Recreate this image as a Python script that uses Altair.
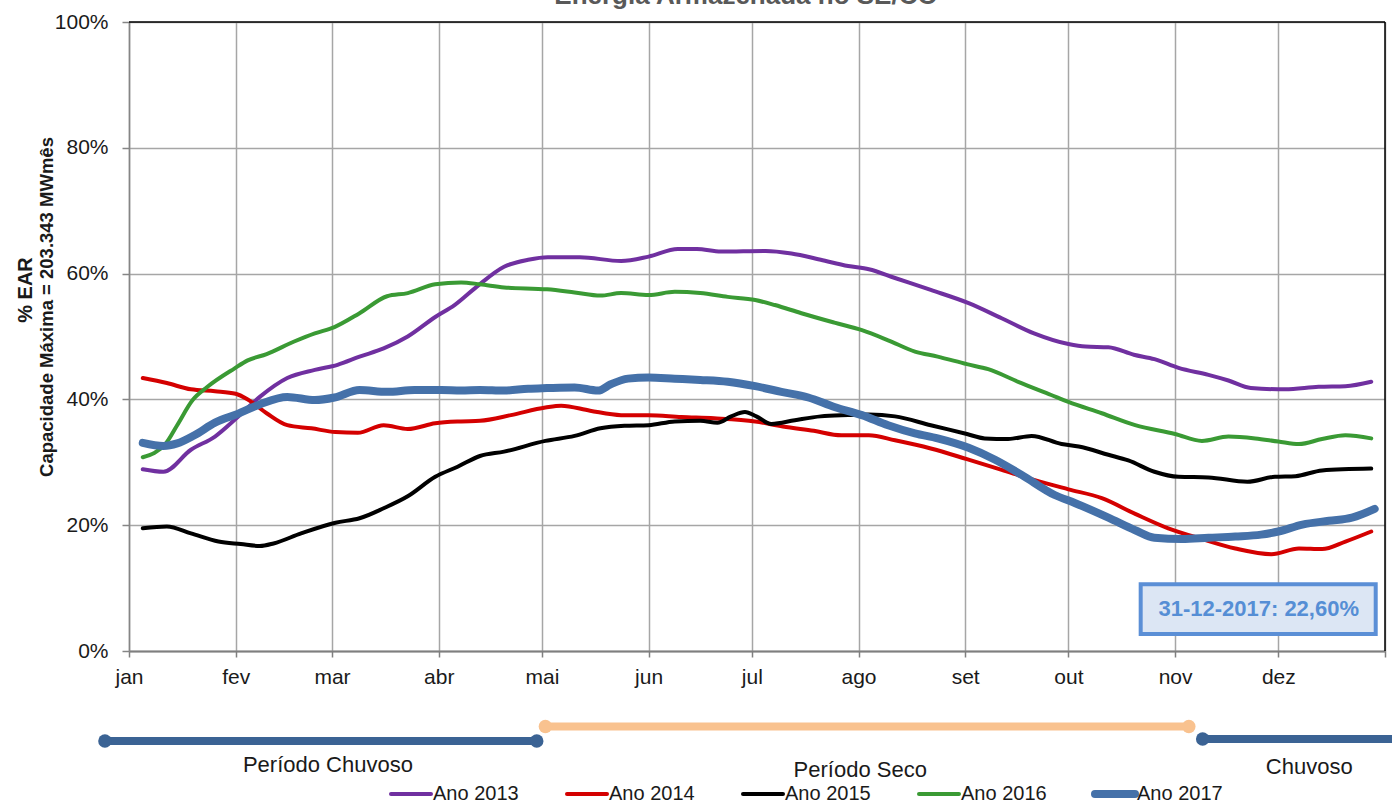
import json
import altair as alt
import pandas as pd

FONT = "Liberation Sans Narrow, Arial Narrow, Liberation Sans, Arial, sans-serif"
TEXT = "#1a1a1a"

# ---- series -------------------------------------------------------------
YEARS = ["Ano 2013", "Ano 2014", "Ano 2015", "Ano 2016", "Ano 2017"]
COLORS = ["#7030A0", "#D40000", "#000000", "#3A9A34", "#4571A9"]
WIDTHS = [4, 4, 4, 4, 8]

MONTHS = ["jan", "fev", "mar", "abr", "mai", "jun",
          "jul", "ago", "set", "out", "nov", "dez"]
MONTH_START = [0, 31, 59, 90, 120, 151, 181, 212, 243, 273, 304, 334, 365]

# day of year / % EAR
day_2013 = [4, 10, 18, 25, 31.6, 38, 46, 54, 60.6, 67, 74, 81, 89, 94.6, 101, 109, 116,
            121.7, 131, 143, 151, 159.5, 165, 172, 185, 192.5, 201, 209, 215, 222.6,
            233, 244, 253.6, 263, 273, 278, 284.6, 292, 298, 305, 313.7, 319.5, 326,
            336, 345.7, 353.5, 361]
ear_2013 = [28.9, 28.5, 32.0, 34.1, 37.2, 40.4, 43.4, 44.7, 45.5, 46.8, 48.1, 50.0, 53.1,
            55.0, 57.9, 61.1, 62.2, 62.6, 62.6, 62.0, 62.7, 63.9, 63.9, 63.5, 63.6, 63.2,
            62.2, 61.2, 60.7, 59.3, 57.4, 55.3, 52.9, 50.5, 48.8, 48.4, 48.3, 47.1, 46.4,
            45.0, 43.9, 43.0, 41.8, 41.6, 42.0, 42.1, 42.8]

day_2014 = [4, 11, 18, 25, 31, 34.5, 40, 46, 53, 60, 66.5, 74, 81, 89, 96.5, 102, 111,
            121, 125.6, 134, 143, 151, 160.5, 170, 182, 190, 199, 207, 215, 222.6, 233,
            243.5, 253.6, 263, 273, 282.7, 292.4, 302, 311.8, 321.5, 332, 340, 346.7,
            353.5, 361]
ear_2014 = [43.4, 42.6, 41.6, 41.3, 40.9, 40.0, 37.8, 35.9, 35.4, 34.8, 34.7, 35.9, 35.3,
            36.2, 36.5, 36.6, 37.5, 38.7, 39.0, 38.2, 37.5, 37.5, 37.2, 37.0, 36.5, 35.7,
            35.0, 34.3, 34.3, 33.5, 32.2, 30.5, 28.8, 27.2, 25.7, 24.3, 21.8, 19.5, 17.8,
            16.3, 15.4, 16.3, 16.2, 17.4, 19.0]

day_2015 = [4, 11, 18, 26, 32.5, 38, 42, 50, 60, 67, 74, 81, 89, 95.5, 102, 109, 121,
            129.5, 137, 144, 151, 158.6, 166, 171, 175, 179, 182.3, 186.7, 193.5, 201,
            209, 215, 222.6, 233, 243.5, 248.7, 255.5, 262.3, 271, 276, 284.6, 290.4,
            298, 305, 313.7, 325, 333, 339, 346.7, 361]
ear_2015 = [19.5, 19.8, 18.7, 17.4, 17.0, 16.7, 17.1, 18.7, 20.4, 21.1, 22.7, 24.6, 27.7,
            29.3, 31.0, 31.7, 33.4, 34.2, 35.4, 35.8, 35.9, 36.5, 36.6, 36.3, 37.3, 38.0,
            37.3, 36.1, 36.7, 37.3, 37.5, 37.6, 37.3, 35.9, 34.5, 33.8, 33.7, 34.2, 32.9,
            32.5, 31.2, 30.3, 28.5, 27.7, 27.6, 26.9, 27.7, 27.8, 28.7, 29.0]

day_2016 = [4, 10.7, 14, 18.5, 22.8, 30.6, 34.5, 40, 48, 54, 59.7, 67, 75, 81, 89, 96.5,
            102, 109, 121.5, 129.5, 137, 143, 151, 158.6, 166, 174, 182, 187.7, 195.4,
            205, 213, 220.6, 228.4, 235, 243.5, 249.7, 258.4, 268, 273, 282.7, 292.4,
            304, 311.8, 319.5, 327.3, 334, 340, 346.7, 353.5, 361]
ear_2016 = [30.8, 33.0, 35.9, 39.9, 42.0, 44.9, 46.2, 47.2, 49.2, 50.5, 51.5, 53.7, 56.4,
            56.9, 58.3, 58.6, 58.3, 57.8, 57.5, 57.0, 56.5, 56.9, 56.6, 57.1, 56.9, 56.3,
            55.8, 55.0, 53.7, 52.2, 51.0, 49.4, 47.6, 46.8, 45.6, 44.8, 42.8, 40.7, 39.6,
            37.8, 35.9, 34.5, 33.4, 34.1, 33.8, 33.3, 32.9, 33.7, 34.3, 33.8]

day_2017 = [4, 10, 14, 19, 25, 31.6, 38, 46, 54, 59.7, 67, 75, 83, 90.7, 96.5, 102, 109,
            116, 121.5, 129.5, 136.3, 140, 145, 151, 158.6, 166, 174, 182, 189.6, 197.4,
            205, 213, 220.6, 228.4, 235, 244, 251.7, 259.4, 269, 275, 284.6, 292.4, 298,
            306, 313.7, 321.5, 329, 334, 341, 348.7, 355.4, 362]
ear_2017 = [33.1, 32.6, 33.0, 34.3, 36.3, 37.7, 39.2, 40.4, 39.9, 40.3, 41.5, 41.2, 41.5,
            41.5, 41.4, 41.5, 41.4, 41.7, 41.8, 41.9, 41.4, 42.4, 43.3, 43.5, 43.3, 43.1,
            42.8, 42.1, 41.2, 40.3, 38.8, 37.5, 35.9, 34.6, 33.8, 32.3, 30.4, 28.0, 24.8,
            23.5, 21.2, 19.2, 18.0, 17.8, 18.0, 18.2, 18.5, 19.0, 20.1, 20.7, 21.2, 22.6]

SERIES = {
    "Ano 2013": (day_2013, ear_2013),
    "Ano 2014": (day_2014, ear_2014),
    "Ano 2015": (day_2015, ear_2015),
    "Ano 2016": (day_2016, ear_2016),
    "Ano 2017": (day_2017, ear_2017),
}

rows = []
for k, (year, (days, vals)) in enumerate(SERIES.items()):
    for d, v in zip(days, vals):
        rows.append({"ano": year, "dia": d, "ear": v, "largura": WIDTHS[k]})
lines_df = pd.DataFrame(rows)

# ---- season bands below the chart (day-of-year extents) -------------------
PERIOD_NAMES = ["Período Chuvoso", "Período Seco", "Chuvoso"]
PERIOD_START = [-7, 121, 312]
PERIOD_END = [118.5, 308, 370]
PERIOD_COLORS = ["#3B6394", "#F9C28F", "#3B6394"]

LAST_LABEL = "31-12-2017: " + f"{ear_2017[-1]:.2f}".replace(".", ",") + "%"
TITLE = "Energia Armazenada no SE/CO"

PLOT_W, PLOT_H = 1256, 629
PAD_L, PAD_T = 129, 22
PX_PER_DAY = PLOT_W / 365

X_SCALE = alt.Scale(domain=[0, 365], nice=False, zero=False)
Y_SCALE = alt.Scale(domain=[0, 100], nice=False, zero=False)
COLOR_SCALE = alt.Scale(domain=YEARS, range=COLORS)

month_expr = ("datum.value >= 365 ? '' : " + json.dumps(MONTHS)
              + "[indexof(" + json.dumps(MONTH_START[:12]) + ", datum.value)]")

x_axis = alt.Axis(values=MONTH_START, labelExpr=month_expr, title=None,
                  grid=True, gridColor="#A6A6A6", gridWidth=1.5,
                  domainColor="#7F7F7F", domainWidth=2,
                  tickColor="#7F7F7F", tickSize=6, tickWidth=1.5,
                  labelFont=FONT, labelFontSize=21, labelColor=TEXT,
                  labelPadding=9, labelAlign="center", labelFlush=False)
y_axis = alt.Axis(values=[0, 20, 40, 60, 80, 100], labelExpr="datum.value + '%'",
                  title=None, grid=True, gridColor="#A6A6A6", gridWidth=1.5,
                  domainColor="#858585", domainWidth=1.5,
                  tickColor="#858585", tickSize=7, tickWidth=1.5,
                  labelFont=FONT, labelFontSize=21, labelColor=TEXT,
                  labelPadding=14)

lines = alt.Chart(lines_df).mark_line(interpolate="monotone", strokeCap="round",
                                      strokeJoin="round").encode(
    x=alt.X("dia:Q", scale=X_SCALE, axis=x_axis),
    y=alt.Y("ear:Q", scale=Y_SCALE, axis=y_axis),
    color=alt.Color("ano:N", scale=COLOR_SCALE, legend=None),
    strokeWidth=alt.StrokeWidth("largura:Q", scale=None),
    order=alt.Order("dia:Q"),
)

# frame: top and right edges in black
frame_df = pd.DataFrame({"x": [0, 365], "x2": [365, 365], "y": [100, 0], "y2": [100, 100]})
frame = alt.Chart(frame_df).mark_rule(color="#000000", strokeWidth=1.5).encode(
    x=alt.X("x:Q", scale=X_SCALE), x2="x2:Q",
    y=alt.Y("y:Q", scale=Y_SCALE), y2="y2:Q",
)

# callout with the last 2017 reading
box_df = pd.DataFrame({"x": [294], "x2": [362.3], "y": [2.7], "y2": [10.6],
                       "cx": [328.3], "cy": [6.65], "txt": [LAST_LABEL]})
box = alt.Chart(box_df).mark_rect(fill="#DCE6F4", stroke="#5B8FD6",
                                  strokeWidth=4).encode(
    x=alt.X("x:Q", scale=X_SCALE), x2="x2:Q",
    y=alt.Y("y:Q", scale=Y_SCALE), y2="y2:Q",
)
box_text = alt.Chart(box_df).mark_text(font=FONT, fontSize=22, fontWeight="bold",
                                       color="#558ED5", baseline="middle").encode(
    x=alt.X("cx:Q", scale=X_SCALE), y=alt.Y("cy:Q", scale=Y_SCALE), text="txt:N",
)

# season bands
band_layers = []
band_y = [719, 704.5, 717]
text_y = [743, 748, 745]
text_x = [57.8, 212.5, 343]
for i, name in enumerate(PERIOD_NAMES):
    seg = pd.DataFrame({"start": [PERIOD_START[i]], "end": [PERIOD_END[i]],
                        "mid": [text_x[i]], "nome": [name]})
    ends = pd.DataFrame({"dia": [PERIOD_START[i], PERIOD_END[i]] if i < 2 else [PERIOD_START[i]]})
    band_layers.append(alt.Chart(seg).mark_rule(color=PERIOD_COLORS[i], strokeWidth=8).encode(
        x=alt.X("start:Q", scale=X_SCALE), x2="end:Q", y=alt.value(band_y[i])))
    band_layers.append(alt.Chart(ends).mark_circle(color=PERIOD_COLORS[i], opacity=1,
                                                   size=180).encode(
        x=alt.X("dia:Q", scale=X_SCALE), y=alt.value(band_y[i])))
    band_layers.append(alt.Chart(seg).mark_text(font=FONT, fontSize=22, color=TEXT,
                                                baseline="middle").encode(
        x=alt.X("mid:Q", scale=X_SCALE), y=alt.value(text_y[i]), text="nome:N"))

# legend row along the bottom edge: a short stroke then the series name
LEG_LEFT, LEG_STEP, LEG_SWATCH, LEG_Y = 391, 176, 40, 772
leg_df = pd.DataFrame({
    "ano": YEARS,
    "largura": WIDTHS,
    "x0": [(LEG_LEFT + LEG_STEP * i - PAD_L) / PX_PER_DAY for i in range(len(YEARS))],
    "x1": [(LEG_LEFT + LEG_STEP * i + LEG_SWATCH - PAD_L) / PX_PER_DAY for i in range(len(YEARS))],
    "xt": [(LEG_LEFT + LEG_STEP * i + LEG_SWATCH + 2 - PAD_L) / PX_PER_DAY for i in range(len(YEARS))],
})
leg_swatch = alt.Chart(leg_df).mark_rule(strokeCap="round").encode(
    x=alt.X("x0:Q", scale=X_SCALE), x2="x1:Q", y=alt.value(LEG_Y),
    color=alt.Color("ano:N", scale=COLOR_SCALE, legend=None),
    strokeWidth=alt.StrokeWidth("largura:Q", scale=None),
)
leg_text = alt.Chart(leg_df).mark_text(font=FONT, fontSize=20, color=TEXT, align="left",
                                       baseline="middle").encode(
    x=alt.X("xt:Q", scale=X_SCALE), y=alt.value(LEG_Y), text="ano:N",
)

# axis titles and the chart heading (heading runs off the top edge)
labels_df = pd.DataFrame({"t1": ["% EAR"], "t2": ["Capacidade Máxima = 203.343 MWmês"],
                          "t3": [TITLE], "tx": [179.3]})
ytitle1 = alt.Chart(labels_df).mark_text(font=FONT, fontSize=20, fontWeight="bold",
                                         color=TEXT, angle=270, baseline="middle").encode(
    x=alt.value(-103), y=alt.value(268), text="t1:N")
ytitle2 = alt.Chart(labels_df).mark_text(font=FONT, fontSize=18.5, fontWeight="bold",
                                         color=TEXT, angle=270, baseline="middle").encode(
    x=alt.value(-82), y=alt.value(285), text="t2:N")
heading = alt.Chart(labels_df).mark_text(font=FONT, fontSize=26, fontWeight="bold",
                                         color="#595959", baseline="alphabetic").encode(
    x=alt.X("tx:Q", scale=X_SCALE), y=alt.value(-18), text="t3:N")

chart = alt.layer(lines, frame, box, box_text, *band_layers, leg_swatch, leg_text,
                  ytitle1, ytitle2, heading).properties(
    width=PLOT_W, height=PLOT_H,
    padding={"left": PAD_L, "top": PAD_T, "right": 7, "bottom": 152},
    autosize=alt.AutoSizeParams(type="none"),
    background="white",
).configure_view(stroke=None)

chart.save("out.html", embed_options={"renderer": "svg", "actions": False})
